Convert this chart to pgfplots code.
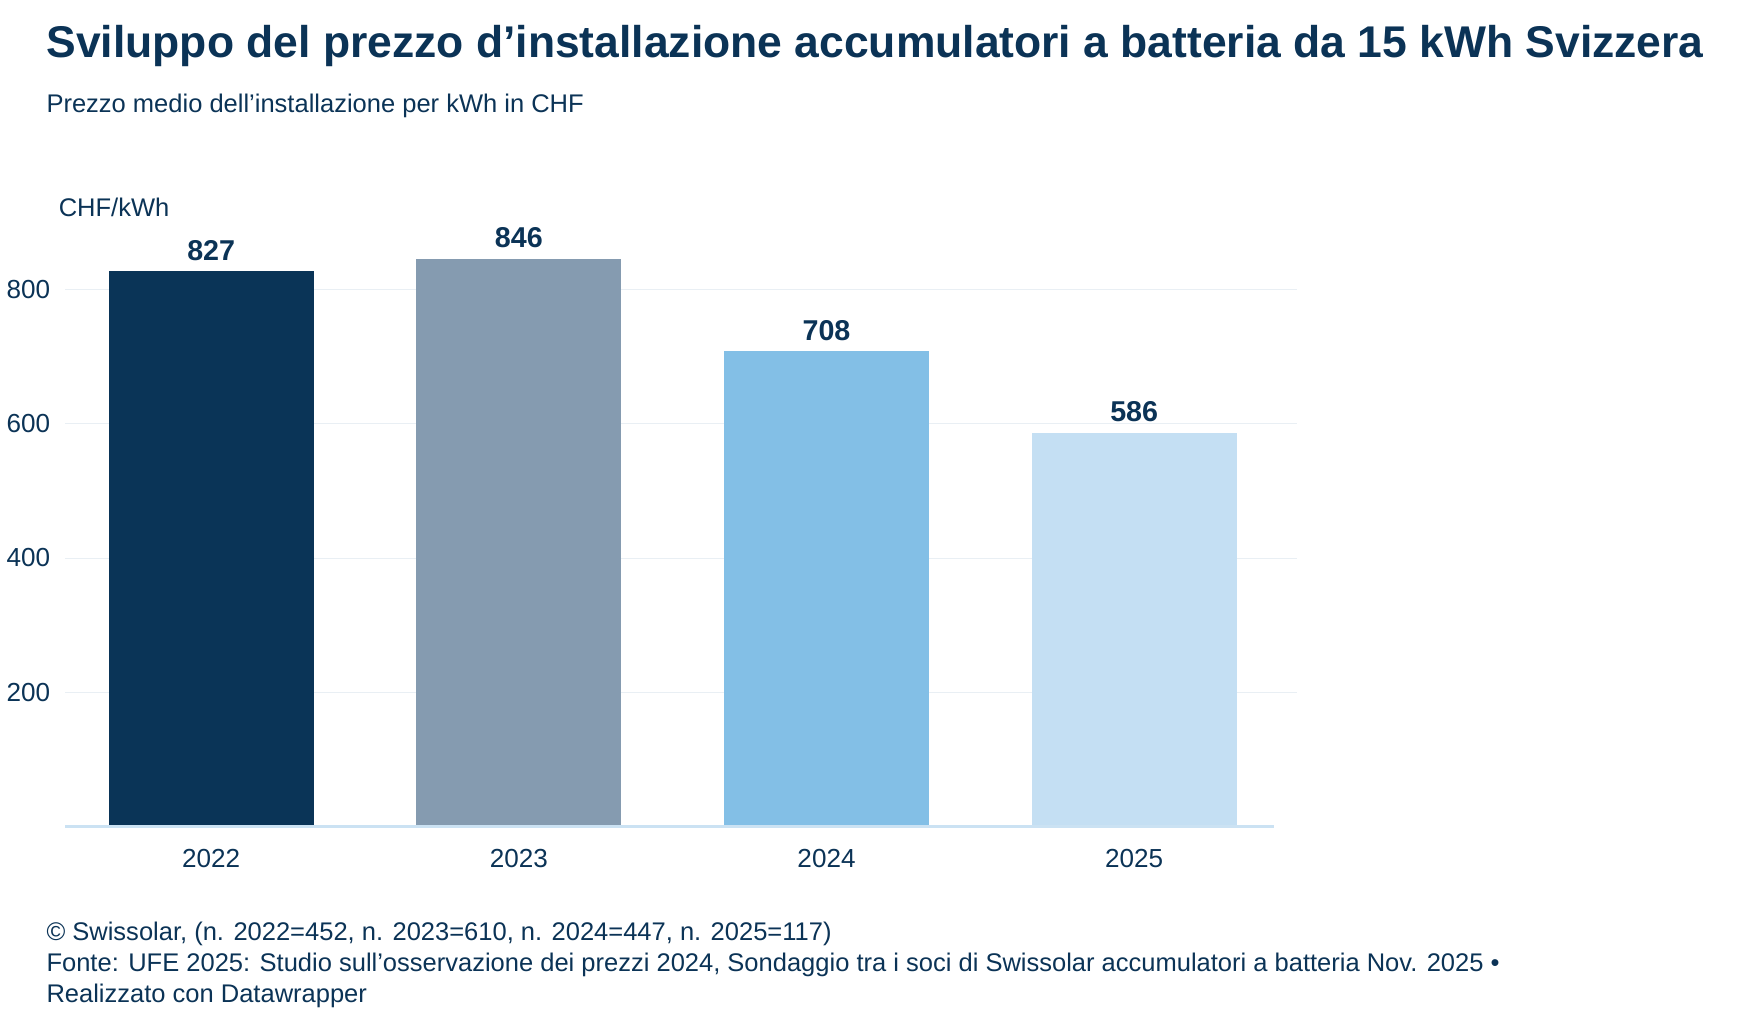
\documentclass[border=0pt]{standalone}
\usepackage{pgfplots}
\pgfplotsset{compat=1.18}
\usepackage{fontspec}
\setmainfont{Liberation Sans}
\definecolor{tx}{HTML}{0B3356}
\definecolor{c1}{HTML}{0A3457}
\definecolor{c2}{HTML}{859BB0}
\definecolor{c3}{HTML}{83BFE6}
\definecolor{c4}{HTML}{C4DFF3}
\definecolor{gr}{HTML}{E9EFF4}
\begin{document}
\begin{tikzpicture}
\begin{scope}[x=0.564pt,y=-0.564pt]
\path[use as bounding box] (0,0) rectangle (1550,912);
\node[anchor=north west,inner sep=0,text=tx] at (24,22) {\resizebox{838pt}{!}{\bfseries Sviluppo del prezzo d’installazione accumulatori a batteria da 15 kWh Svizzera}};
\node[anchor=north west,inner sep=0,text=tx,font=\fontsize{12.9}{15}\selectfont] at (24,84) {Prezzo medio dell’installazione per kWh in CHF};
\node[anchor=north west,inner sep=0,text=tx,font=\fontsize{12.9}{15}\selectfont] at (35,177) {CHF/kWh};
\begin{scope}[every node/.style={anchor=north west,inner sep=0,text=tx,font=\fontsize{12.9}{15}\selectfont}]
\node at (24,826) {© Swissolar, (n. 2022=452, n. 2023=610, n. 2024=447, n. 2025=117)};
\node at (24,854) {Fonte: UFE 2025: Studio sull’osservazione dei prezzi 2024, Sondaggio tra i soci di Swissolar accumulatori a batteria Nov. 2025 •};
\node at (24,882) {Realizzato con Datawrapper};
\end{scope}
\end{scope}
\begin{axis}[at={(97.0pt,-417.9pt)},anchor=origin,scale only axis,
  width=623pt,height=305.4pt,
  xmin=-0.475,xmax=3.529,ymin=0,ymax=900,clip=false,
  axis line style={draw=none},tick style={draw=none},
  ymajorgrids,grid style={gr},ytick={200,400,600,800},
  xtick={0,1,2,3},xticklabels={2022,2023,2024,2025},
  ticklabel style={text=tx,font=\fontsize{13.2}{15}\selectfont},
  /pgf/number format/assume math mode=true,
  yticklabel style={xshift=-4pt},
  xticklabel style={yshift=-4pt},
  ybar,bar width=103.8pt,bar shift=0pt,
  nodes near coords,
  every node near coord/.append style={text=tx,font=\bfseries\fontsize{14.5}{16}\selectfont,yshift=2pt,/pgf/number format/assume math mode=true},
]
\addplot[fill=c1,draw=none] coordinates {(0,827)};
\addplot[fill=c2,draw=none] coordinates {(1,846)};
\addplot[fill=c3,draw=none] coordinates {(2,708)};
\addplot[fill=c4,draw=none] coordinates {(3,586)};
\draw[c4!80!gr,line width=1.6pt] (axis cs:-0.475,0) -- (axis cs:3.453,0);
\end{axis}
\end{tikzpicture}
\end{document}
